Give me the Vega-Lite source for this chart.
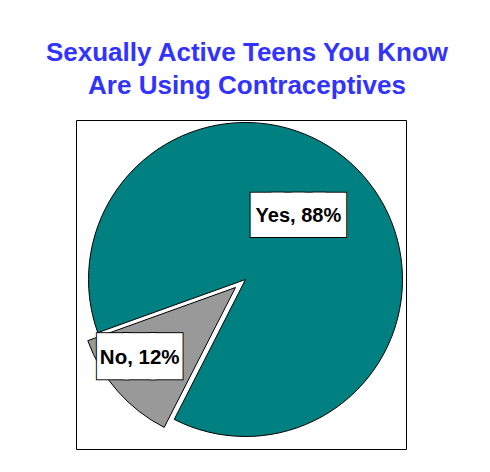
{
  "$schema": "https://vega.github.io/schema/vega-lite/v6.json",
  "width": 330,
  "height": 329,
  "autosize": {"type": "none"},
  "padding": {"left": 76, "top": 120, "right": 84, "bottom": 23},
  "background": "white",
  "view": {"stroke": "#000000", "strokeWidth": 1, "fill": "#ffffff"},
  "config": {"view": {"stroke": "#000000", "strokeWidth": 1}},
  "title": {
    "text": ["Sexually Active Teens You Know", "Are Using Contraceptives"],
    "font": "Liberation Sans",
    "fontSize": 26,
    "fontWeight": "bold",
    "color": "#3333ff",
    "lineHeight": 33,
    "anchor": "middle",
    "offset": 21,
    "dx": 6
  },
  "data": {
    "values": [
      {"answer": "No", "percent": 12, "label": "No, 12%"},
      {"answer": "Yes", "percent": 88, "label": "Yes, 88%"}
    ]
  },
  "encoding": {
    "theta": {"field": "percent", "type": "quantitative", "stack": true, "scale": {"range": [3.613, 9.896]}},
    "order": {"field": "answer", "type": "ordinal", "sort": "ascending"}
  },
  "layer": [
    {
      "mark": {"type": "arc", "outerRadius": 157, "xOffset": 4.5, "yOffset": -5, "fill": "#008080", "stroke": "#000000", "strokeWidth": 1},
      "encoding": {"opacity": {"condition": {"test": "datum.answer === 'Yes'", "value": 1}, "value": 0}}
    },
    {
      "mark": {"type": "arc", "outerRadius": 157, "xOffset": -5.5, "yOffset": 3, "fill": "#999999", "stroke": "#000000", "strokeWidth": 1},
      "encoding": {"opacity": {"condition": {"test": "datum.answer === 'No'", "value": 1}, "value": 0}}
    },
    {
      "mark": {"type": "text", "font": "DejaVu Sans", "fontSize": 26.9, "fill": "#000000", "stroke": "#000000", "strokeWidth": 14.2, "strokeJoin": "miter", "xOffset": 4.5, "yOffset": -5, "radius": 83, "thetaOffset": -0.157},
      "encoding": {"text": {"condition": {"test": "datum.answer === 'Yes'", "value": "████"}, "value": ""}}
    },
    {
      "mark": {"type": "text", "font": "DejaVu Sans", "fontSize": 26.9, "fill": "#ffffff", "stroke": "#ffffff", "strokeWidth": 12.2, "strokeJoin": "miter", "xOffset": 4.5, "yOffset": -5, "radius": 83, "thetaOffset": -0.157},
      "encoding": {"text": {"condition": {"test": "datum.answer === 'Yes'", "value": "████"}, "value": ""}}
    },
    {
      "mark": {"type": "text", "font": "DejaVu Sans", "fontSize": 34.7, "fill": "#000000", "stroke": "#000000", "strokeWidth": 6.9, "strokeJoin": "miter", "xOffset": -5.5, "yOffset": 3, "radius": 119, "thetaOffset": 0.087},
      "encoding": {"text": {"condition": {"test": "datum.answer === 'No'", "value": "███"}, "value": ""}}
    },
    {
      "mark": {"type": "text", "font": "DejaVu Sans", "fontSize": 34.7, "fill": "#ffffff", "stroke": "#ffffff", "strokeWidth": 4.9, "strokeJoin": "miter", "xOffset": -5.5, "yOffset": 3, "radius": 119, "thetaOffset": 0.087},
      "encoding": {"text": {"condition": {"test": "datum.answer === 'No'", "value": "███"}, "value": ""}}
    },
    {
      "mark": {"type": "text", "font": "Liberation Sans", "fontSize": 20, "fontWeight": "bold", "color": "#000000", "xOffset": 4.5, "yOffset": -5, "radius": 83, "thetaOffset": -0.157},
      "encoding": {"text": {"condition": {"test": "datum.answer === 'Yes'", "field": "label"}, "value": ""}}
    },
    {
      "mark": {"type": "text", "font": "Liberation Sans", "fontSize": 20.5, "fontWeight": "bold", "color": "#000000", "xOffset": -5.5, "yOffset": 3, "radius": 119, "thetaOffset": 0.087},
      "encoding": {"text": {"condition": {"test": "datum.answer === 'No'", "field": "label"}, "value": ""}}
    }
  ]
}
